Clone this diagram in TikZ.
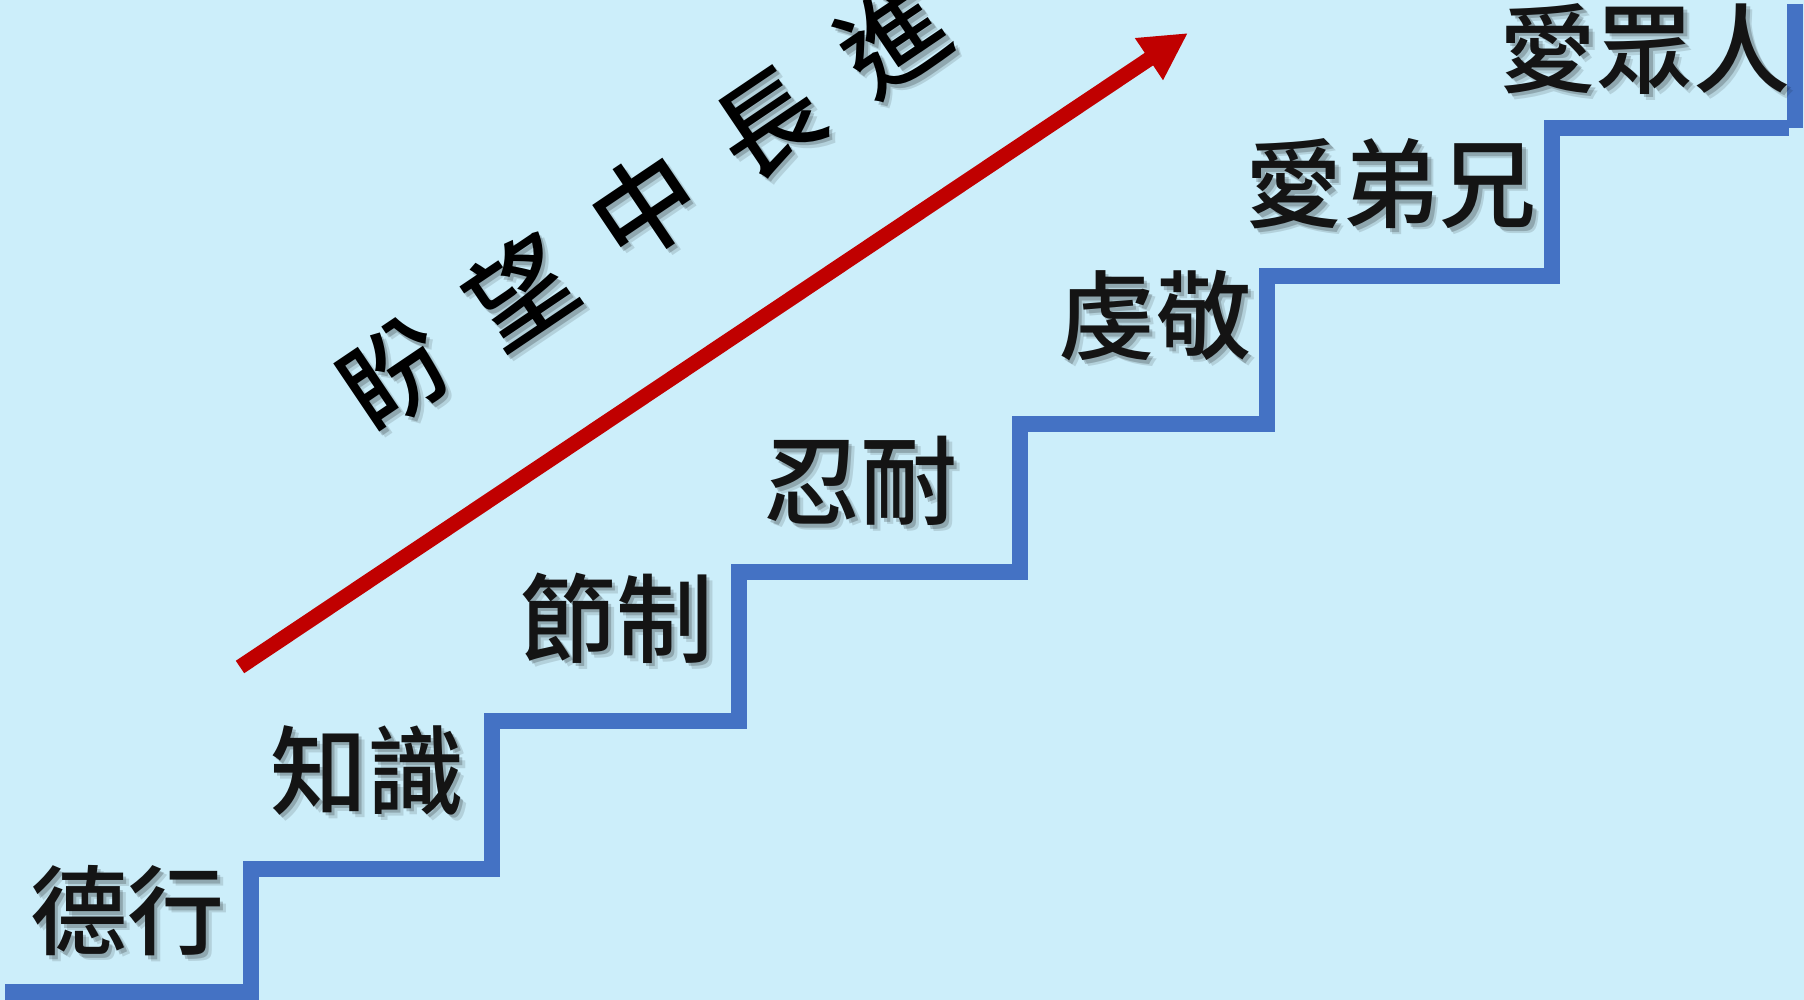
\documentclass[tikz,border=0pt]{standalone}
\usepackage{fontspec}
\newfontfamily\cjk{Noto Sans CJK TC}[UprightFont=* Medium]
\usetikzlibrary{arrows.meta}
\definecolor{bgc}{RGB}{204,238,250}
\definecolor{stairc}{RGB}{68,114,196}
\definecolor{arrowc}{RGB}{192,0,0}
\definecolor{txtc}{RGB}{20,20,20}
\begin{document}
\begin{tikzpicture}[x=1pt,y=-1pt,
  lbl/.style={inner sep=0pt, text=txtc, font=\cjk\fontsize{97}{97}\selectfont},
  lblshd/.style={inner sep=0pt, text=black, font=\cjk\fontsize{97}{97}\selectfont},
  ttl/.style={inner sep=0pt, text=black, rotate=34, font=\cjk\fontsize{104}{104}\selectfont},
  ttlshd/.style={inner sep=0pt, text=black, rotate=34, font=\cjk\fontsize{104}{104}\selectfont},
  stair/.style={draw=stairc, line width=16pt},
  uparrow/.style={draw=arrowc, line width=15pt, -{Triangle[length=47pt,width=47pt]}}
]
\useasboundingbox (0,0) rectangle (1804,1000);
\fill[bgc] (0,0) rectangle (1804,1000);

% staircase
\draw[stair] (5,992) -- (251,992) -- (251,869) -- (492,869) -- (492,721)
  -- (739,721) -- (739,572) -- (1020,572) -- (1020,424) -- (1267,424)
  -- (1267,276) -- (1552,276) -- (1552,128) -- (1789,128);
\draw[stair] (1795,128) -- (1795,4);

% arrow
\coordinate (as) at (240,667);
\coordinate (ae) at (1188,33);
\draw[uparrow] (as) -- (ae);

% step labels (soft shadow + text)
\foreach \n/\x/\y/\t in {l1/127/911/德行, l2/367/770/知識, l3/616/618/節制,
  l4/860/481/忍耐, l5/1155/316/虔敬, l6/1391/184/愛弟兄, l7/1645/49/愛眾人}{
  \node[lblshd, opacity=0.12] (\n a) at (\x+6,\y+6) {\t};
  \node[lblshd, opacity=0.2] (\n b) at (\x+3.5,\y+3.5) {\t};
  \node[lbl] (\n) at (\x,\y) {\t};
}

% title
\foreach \n/\x/\y/\t in {t1/395/375/盼, t2/519.5/291/望, t3/644/207/中,
  t4/768.5/123/長, t5/893/39/進}{
  \node[ttlshd, opacity=0.12] (\n a) at (\x+6,\y+6) {\t};
  \node[ttlshd, opacity=0.2] (\n b) at (\x+3.5,\y+3.5) {\t};
  \node[ttl] (\n) at (\x,\y) {\t};
}
\end{tikzpicture}
\end{document}
